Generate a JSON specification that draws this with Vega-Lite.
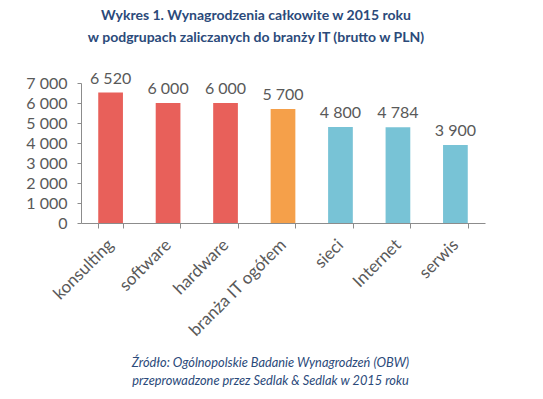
{
  "$schema": "https://vega.github.io/schema/vega-lite/v6.json",
  "autosize": "none",
  "width": 404,
  "height": 140,
  "padding": {"left": 81, "top": 83, "right": 58, "bottom": 176},
  "background": "white",
  "config": {
    "locale": {"number": {"decimal": ",", "thousands": " ", "grouping": [3], "currency": ["", " zł"]}},
    "view": {"stroke": null},
    "font": "Lato"
  },
  "title": {
    "text": ["Wykres 1. Wynagrodzenia całkowite w 2015 roku", "w podgrupach zaliczanych do branży IT (brutto w PLN)"],
    "font": "Lato",
    "fontSize": 14,
    "fontWeight": "bold",
    "color": "#2B4A7A",
    "anchor": "middle",
    "frame": "group",
    "dx": -27,
    "offset": 26,
    "lineHeight": 22
  },
  "data": {
    "values": [
      {"kategoria": "konsulting", "wartosc": 6520, "grupa": "a"},
      {"kategoria": "software", "wartosc": 6000, "grupa": "a"},
      {"kategoria": "hardware", "wartosc": 6000, "grupa": "a"},
      {"kategoria": "branża IT ogółem", "wartosc": 5700, "grupa": "b"},
      {"kategoria": "sieci", "wartosc": 4800, "grupa": "c"},
      {"kategoria": "Internet", "wartosc": 4784, "grupa": "c"},
      {"kategoria": "serwis", "wartosc": 3900, "grupa": "c"}
    ]
  },
  "encoding": {
    "x": {
      "field": "kategoria",
      "type": "nominal",
      "sort": null,
      "scale": {"paddingInner": 0.57, "paddingOuter": 0.3},
      "axis": {
        "title": ["Źródło: Ogólnopolskie Badanie Wynagrodzeń (OBW)", "przeprowadzone  przez Sedlak & Sedlak w 2015 roku"],
        "titleFont": "Lato",
        "titleFontStyle": "italic",
        "titleFontWeight": "normal",
        "titleFontSize": 12.8,
        "titleColor": "#2B4A7A",
        "titleLineHeight": 18,
        "titleX": 189,
        "titleY": 143,
        "titleBaseline": "alphabetic",
        "labelAngle": -45,
        "labelAlign": "right",
        "labelBaseline": "middle",
        "labelFontSize": 17,
        "labelColor": "#595959",
        "labelPadding": 14,
        "tickBand": "extent",
        "tickSize": 5,
        "tickColor": "#8C8C8C",
        "domainColor": "#8C8C8C",
        "labelFont": "Lato"
      }
    },
    "y": {
      "field": "wartosc",
      "type": "quantitative",
      "scale": {"domain": [0, 7000], "nice": false},
      "axis": {
        "title": null,
        "values": [0, 1000, 2000, 3000, 4000, 5000, 6000, 7000],
        "format": ",d",
        "grid": false,
        "labelFontSize": 16,
        "labelColor": "#595959",
        "labelPadding": 10,
        "tickSize": 4,
        "tickColor": "#8C8C8C",
        "domainColor": "#8C8C8C",
        "labelFont": "Lato"
      }
    }
  },
  "layer": [
    {
      "mark": {"type": "bar"},
      "encoding": {
        "color": {
          "field": "grupa",
          "type": "nominal",
          "scale": {"domain": ["a", "b", "c"], "range": ["#E8605A", "#F5A04A", "#78C3D6"]},
          "legend": null
        }
      }
    },
    {
      "mark": {"type": "text", "baseline": "bottom", "dy": -6, "fontSize": 16, "color": "#595959", "font": "Lato"},
      "encoding": {
        "text": {"field": "wartosc", "type": "quantitative", "format": ",d"}
      }
    }
  ]
}
